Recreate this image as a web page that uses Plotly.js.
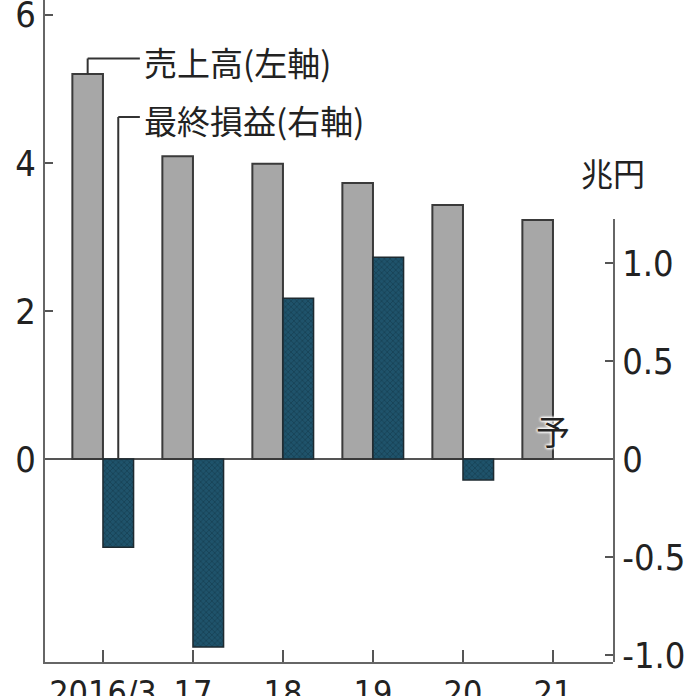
<!DOCTYPE html>
<html>
<head>
<meta charset="utf-8">
<script src="https://cdn.plot.ly/plotly-3.0.1.min.js"></script>
<style>html,body{margin:0;padding:0;background:#fff;}#chart{width:696px;height:696px;}</style>
</head>
<body>
<div id="chart"></div>
<script>
const categories = [0, 1, 2, 3, 4, 5];
const tickLabels = ["2016/3", "17", "18", "19", "20", "21"];
const sales = [5.20, 4.09, 3.99, 3.73, 3.43, 3.23];        // 売上高 (左軸)
const netIncome = [-0.45, -0.96, 0.82, 1.03, -0.107, null]; // 最終損益 (右軸, 兆円)
const leftTicks = [0, 2, 4, 6];
const rightTicks = [-1, -0.5, 0, 0.5, 1];
const rightTickText = ["-1.0", "-0.5", "0", "0.5", "1.0"];

const numFont = "Liberation Sans Narrow, DejaVu Sans Condensed, Arial Narrow, sans-serif";
const cjkFont = "Noto Sans CJK JP, sans-serif";
const BW = 0.34;

const traces = [
  {
    type: "bar", x: categories, y: sales, xaxis: "x", yaxis: "y",
    width: BW, offset: -BW,
    marker: {color: "#a7a7a7", line: {color: "#3a3a3a", width: 2}},
    hoverinfo: "skip", showlegend: false
  },
  {
    type: "bar", x: categories, y: netIncome, xaxis: "x", yaxis: "y2",
    width: BW, offset: 0,
    marker: {color: "#1f536b", line: {color: "#1e2a30", width: 1.5},
      pattern: {shape: "x", fgcolor: "#143d50", bgcolor: "#1f536b", size: 4, solidity: 0.3}},
    hoverinfo: "skip", showlegend: false
  }
];

const layout = {
  width: 696, height: 696,
  margin: {l: 45, r: 83, t: 0, b: 34},
  paper_bgcolor: "#ffffff", plot_bgcolor: "rgba(0,0,0,0)",
  showlegend: false,
  xaxis: {
    range: [-0.644, 5.667], tickvals: categories, ticktext: tickLabels,
    showline: true, linecolor: "#666", linewidth: 2,
    ticks: "inside", ticklen: 12, tickwidth: 2, tickcolor: "#555",
    showgrid: false, zeroline: false, anchor: "y", ticklabeloverflow: "allow",
    tickfont: {family: numFont, size: 34, color: "#222"}
  },
  yaxis: {
    range: [-2.74, 6.2], tickvals: leftTicks,
    showline: true, linecolor: "#666", linewidth: 2,
    ticks: "inside", ticklen: 8, tickwidth: 2, tickcolor: "#555",
    showgrid: false, zeroline: true, zerolinecolor: "#555", zerolinewidth: 2,
    ticklabeloverflow: "allow",
    tickfont: {family: numFont, size: 36, color: "#222"}, anchor: "x"
  },
  yaxis2: {
    domain: [0, 0.669], range: [-1.036, 1.224], anchor: "x", side: "right",
    tickvals: rightTicks, ticktext: rightTickText,
    showline: true, linecolor: "#666", linewidth: 2,
    ticks: "inside", ticklen: 8, tickwidth: 2, tickcolor: "#555",
    showgrid: false, zeroline: false, ticklabeloverflow: "allow",
    tickfont: {family: numFont, size: 36, color: "#222"}
  },
  shapes: [
    {type: "line", xref: "x", yref: "y", x0: -0.17, x1: -0.17, y0: sales[0], y1: 5.41, line: {color: "#333", width: 2}},
    {type: "line", xref: "x", yref: "y", x0: -0.17, x1: 0.41, y0: 5.41, y1: 5.41, line: {color: "#333", width: 2}},
    {type: "line", xref: "x", yref: "y", x0: 0.17, x1: 0.17, y0: 0, y1: 4.62, line: {color: "#333", width: 2}},
    {type: "line", xref: "x", yref: "y", x0: 0.17, x1: 0.41, y0: 4.62, y1: 4.62, line: {color: "#333", width: 2}}
  ],
  annotations: [
    {xref: "x", yref: "y", x: 0.43, y: 5.41, xanchor: "left", yanchor: "middle", yshift: -3,
     text: "売上高(左軸)", showarrow: false, font: {family: cjkFont, size: 33, color: "#222"}},
    {xref: "x", yref: "y", x: 0.43, y: 4.62, xanchor: "left", yanchor: "middle", yshift: -3,
     text: "最終損益(右軸)", showarrow: false, font: {family: cjkFont, size: 33, color: "#222"}},
    {xref: "paper", yref: "paper", x: 1.0, y: 0.74, xanchor: "center", yanchor: "middle",
     text: "兆円", showarrow: false, font: {family: cjkFont, size: 32, color: "#222"}},
    {xref: "x", yref: "y", x: 5.0, y: 0.38, xanchor: "center", yanchor: "middle",
     text: "予", showarrow: false,
     font: {family: cjkFont, size: 34, color: "#222", shadow: "0 0 3px #fff, 0 0 3px #fff, 0 0 3px #fff, 0 0 3px #fff"}}
  ]
};

Plotly.newPlot("chart", traces, layout, {displayModeBar: false, staticPlot: true});
</script>
</body>
</html>
